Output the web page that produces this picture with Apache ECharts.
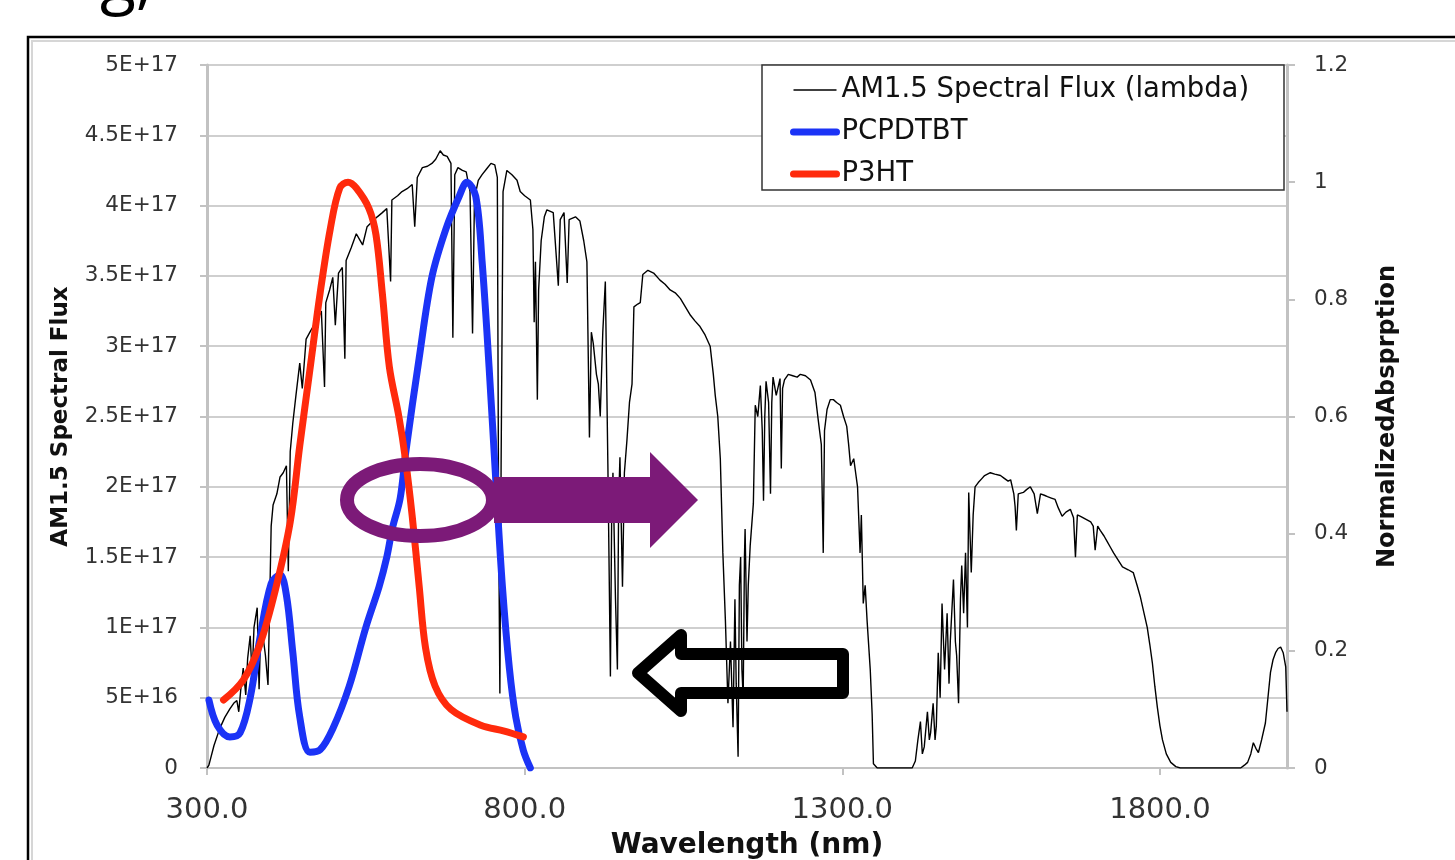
<!DOCTYPE html>
<html>
<head>
<meta charset="utf-8">
<title>AM1.5 spectral flux vs absorption</title>
<script src="https://cdn.jsdelivr.net/npm/echarts@6/dist/echarts.min.js"></script>
<style>
  html, body { margin: 0; padding: 0; background: #fff; }
  #chart { width: 1455px; height: 860px; }
</style>
</head>
<body>
<div id="chart"></div>
<script>
// AM1.5 spectrum, wavelength in nm, flux in units of 1E+17
const amWavelength = [
  300,303,311,320,328,336,342,347,350,353,
  357,361,364,368,371,374,379,382,385,388,
  392,396,399,401,404,410,415,420,425,428,
  431,435,440,446,450,456,462,467,473,480,
  485,487,493,498,502,507,513,517,519,527,
  535,540,545,552,561,568,576,583,589,591,
  600,607,615,623,627,631,639,647,654,660,
  667,672,678,684,687,690,695,702,708,714,
  718,721,727,733,740,747,753,757,759,761,
  763,766,772,780,788,793,800,809,813,815,
  817,820,822,826,831,835,845,853,856,862,
  867,870,880,887,893,898,902,905,908,913,
  916,919,923,927,931,935,937,939,943,946,
  948,950,954,957,961,965,969,972,978,982,
  986,994,1003,1013,1021,1029,1037,1045,1053,1061,
  1068,1076,1084,1092,1097,1100,1104,1108,1112,1116,
  1120,1124,1128,1131,1133,1136,1138,1140,1142,1144,
  1146,1147,1150,1152,1155,1160,1163,1167,1171,1174,
  1176,1178,1180,1184,1187,1189,1191,1196,1202,1204,
  1206,1209,1215,1222,1229,1234,1242,1250,1257,1262,
  1267,1270,1272,1276,1281,1286,1291,1297,1302,1307,
  1310,1313,1318,1321,1324,1328,1330,1333,1336,1339,
  1344,1347,1349,1355,1410,1415,1419,1423,1426,1429,
  1434,1437,1439,1443,1446,1448,1451,1454,1457,1461,
  1465,1468,1470,1475,1478,1480,1483,1486,1488,1491,
  1494,1497,1499,1503,1506,1509,1514,1520,1524,1533,
  1540,1549,1555,1561,1565,1570,1572,1574,1577,1585,
  1590,1596,1602,1607,1612,1618,1623,1629,1635,1640,
  1646,1652,1659,1664,1667,1670,1675,1683,1691,1695,
  1698,1702,1706,1712,1717,1722,1727,1734,1741,1750,
  1758,1764,1769,1775,1780,1784,1788,1792,1796,1800,
  1804,1810,1817,1825,1832,1927,1933,1938,1943,1947,
  1951,1955,1960,1966,1970,1974,1978,1982,1986,1990,
  1994,1998,2000
];
const amFluxE17 = [
  0,0.02,0.16,0.28,0.36,0.42,0.46,0.48,0.40,0.55,
  0.71,0.52,0.78,0.94,0.66,1.0,1.14,0.56,1.05,1.06,
  0.80,0.59,1.25,1.72,1.87,1.95,2.07,2.10,2.15,1.40,
  2.25,2.45,2.65,2.88,2.70,3.05,3.10,3.14,3.18,3.25,
  2.71,3.31,3.40,3.49,3.15,3.52,3.56,2.91,3.61,3.70,
  3.80,3.76,3.72,3.85,3.89,3.92,3.95,3.98,3.46,4.04,
  4.07,4.10,4.12,4.15,3.85,4.20,4.27,4.28,4.30,4.33,
  4.39,4.36,4.35,4.30,3.06,4.22,4.27,4.25,4.24,4.10,
  3.09,4.05,4.18,4.22,4.26,4.30,4.29,4.20,1.80,0.53,
  2.20,4.10,4.25,4.22,4.18,4.10,4.07,4.04,3.83,3.17,
  3.60,2.62,3.40,3.75,3.92,3.97,3.95,3.43,3.90,3.95,
  3.45,3.90,3.92,3.89,3.75,3.60,2.35,3.10,3.02,2.80,
  2.73,2.50,3.10,3.46,2.16,0.65,1.80,2.10,1.20,0.70,
  1.90,2.21,1.29,2.10,2.33,2.60,2.73,3.28,3.30,3.31,
  3.51,3.54,3.52,3.47,3.44,3.40,3.38,3.34,3.28,3.22,
  3.18,3.14,3.08,3.00,2.80,2.65,2.50,2.20,1.53,1.05,
  0.46,0.90,0.29,1.20,0.60,0.08,1.30,1.50,0.70,0.50,
  1.50,1.70,0.90,1.30,1.58,1.88,2.58,2.50,2.72,2.40,
  1.90,2.50,2.75,2.60,1.95,2.60,2.78,2.65,2.77,2.13,
  2.70,2.76,2.80,2.79,2.78,2.80,2.79,2.76,2.67,2.48,
  2.30,1.53,2.40,2.55,2.62,2.62,2.60,2.58,2.50,2.43,
  2.30,2.15,2.20,2.10,2.00,1.53,1.80,1.17,1.30,1.05,
  0.70,0.38,0.03,0,0,0.05,0.20,0.33,0.10,0.15,
  0.40,0.20,0.25,0.46,0.20,0.30,0.82,0.50,1.17,0.70,
  1.10,0.60,0.90,1.34,0.90,0.80,0.46,1.20,1.44,1.10,
  1.53,1.00,1.96,1.39,1.80,2.00,2.03,2.06,2.08,2.10,
  2.09,2.08,2.06,2.04,2.05,1.95,1.86,1.69,1.95,1.96,
  1.98,2.00,1.95,1.81,1.95,1.94,1.93,1.92,1.91,1.85,
  1.79,1.82,1.84,1.78,1.50,1.80,1.79,1.77,1.75,1.72,
  1.55,1.72,1.69,1.65,1.61,1.57,1.53,1.48,1.43,1.41,
  1.39,1.30,1.22,1.10,1.00,0.88,0.75,0.58,0.43,0.30,
  0.20,0.10,0.04,0.01,0,0,0.02,0.04,0.10,0.18,
  0.14,0.11,0.20,0.32,0.50,0.68,0.77,0.82,0.85,0.86,
  0.82,0.72,0.40
];

// normalized absorption of the two polymers
const pcpdtbtWavelength = [303,316,336,352,368,383,401,415,425,435,446,462,478,498,524,550,571,583,592,604,613,634,654,676,697,709,723,733,744,755,765,776,786,798,809];
const pcpdtbtAbs = [0.116,0.073,0.053,0.06,0.12,0.22,0.315,0.33,0.295,0.198,0.087,0.027,0.031,0.067,0.14,0.24,0.31,0.36,0.41,0.46,0.54,0.70,0.838,0.92,0.976,1.0,0.976,0.865,0.685,0.483,0.31,0.17,0.087,0.03,0];

const p3htWavelength = [326,357,383,409,431,446,462,478,494,509,522,535,555,566,576,587,602,612,623,634,644,659,684,731,768,798];
const p3htAbs = [0.116,0.15,0.21,0.31,0.42,0.55,0.68,0.81,0.92,0.99,1.0,0.99,0.955,0.91,0.81,0.685,0.60,0.53,0.43,0.31,0.205,0.14,0.10,0.073,0.063,0.053];

const seriesNames = ['AM1.5 Spectral Flux (lambda)', 'PCPDTBT', 'P3HT'];

const FONT = 'DejaVu Sans';
const GRID_GREY = '#cfcfcf';
const AXIS_GREY = '#c2c2c2';
const PURPLE = '#7c1a78';
const BLUE = '#1b33f6';
const RED = '#ff2a0c';

// 5E+17 style labels, like the spreadsheet
function sciLabel(v) {
  if (v === 0) return '0';
  const e = Math.floor(Math.log10(v) + 1e-9);
  const m = Math.round(v / Math.pow(10, e) * 10) / 10;
  return m + 'E+' + e;
}

const chart = echarts.init(document.getElementById('chart'));

const option = {
  animation: false,
  backgroundColor: '#fff',
  grid: { left: 207, right: 168, top: 65, bottom: 92, containLabel: false, outerBoundsMode: 'none' },
  legend: {
    orient: 'vertical',
    left: 790,
    top: 76,
    padding: 0,
    itemGap: 14,
    itemWidth: 43,
    itemHeight: 14,
    z: 5,
    itemStyle: { opacity: 0 },
    textStyle: { fontFamily: FONT, fontSize: 27.5, color: '#111' },
    data: [
      { name: seriesNames[0], lineStyle: { width: 1.3, color: '#000' } },
      { name: seriesNames[1], lineStyle: { width: 7, color: BLUE, cap: 'round' } },
      { name: seriesNames[2], lineStyle: { width: 7, color: RED, cap: 'round' } }
    ]
  },
  xAxis: {
    type: 'value',
    min: 300,
    max: 2000,
    interval: 500,
    name: 'Wavelength (nm)',
    nameLocation: 'middle',
    nameGap: 64,
    nameTextStyle: { fontFamily: FONT, fontWeight: 'bold', fontSize: 28, color: '#111' },
    axisLine: { show: true, lineStyle: { color: AXIS_GREY, width: 2 } },
    axisTick: { show: true, length: 7, lineStyle: { color: AXIS_GREY, width: 2 } },
    axisLabel: {
      showMaxLabel: false,
      margin: 28,
      fontFamily: FONT,
      fontSize: 29,
      color: '#333',
      formatter: v => v.toFixed(1)
    },
    splitLine: { show: false }
  },
  yAxis: [
    {
      type: 'value',
      position: 'left',
      min: 0,
      max: 5e17,
      interval: 5e16,
      name: 'AM1.5 Spectral Flux',
      nameLocation: 'middle',
      nameRotate: 90,
      nameGap: 134,
      nameTextStyle: { fontFamily: FONT, fontWeight: 'bold', fontSize: 23, color: '#111' },
      axisLine: { show: true, lineStyle: { color: AXIS_GREY, width: 3 } },
      axisTick: { show: true, length: 7, lineStyle: { color: AXIS_GREY, width: 2 } },
      axisLabel: { margin: 29, fontFamily: FONT, fontSize: 21.5, color: '#333', formatter: sciLabel },
      splitLine: { show: true, lineStyle: { color: GRID_GREY, width: 2 } }
    },
    {
      type: 'value',
      position: 'right',
      min: 0,
      max: 1.2,
      interval: 0.2,
      name: 'NormalizedAbsprption',
      nameLocation: 'middle',
      nameRotate: 90,
      nameGap: 89,
      nameTextStyle: { fontFamily: FONT, fontWeight: 'bold', fontSize: 24, color: '#111' },
      axisLine: { show: true, lineStyle: { color: AXIS_GREY, width: 3 } },
      axisTick: { show: true, length: 8, lineStyle: { color: AXIS_GREY, width: 2 } },
      axisLabel: { margin: 27, fontFamily: FONT, fontSize: 21.5, color: '#333' },
      splitLine: { show: false }
    }
  ],
  series: [
    {
      name: seriesNames[0],
      type: 'line',
      yAxisIndex: 0,
      symbol: 'none',
      z: 2,
      data: amWavelength.map((w, i) => [w, amFluxE17[i] * 1e17]),
      lineStyle: { color: '#000', width: 1.4 },
      itemStyle: { color: '#000' }
    },
    {
      name: seriesNames[1],
      type: 'line',
      yAxisIndex: 1,
      symbol: 'none',
      smooth: 0.35,
      z: 3,
      data: pcpdtbtWavelength.map((w, i) => [w, pcpdtbtAbs[i]]),
      lineStyle: { color: BLUE, width: 7, cap: 'round' },
      itemStyle: { color: BLUE }
    },
    {
      name: seriesNames[2],
      type: 'line',
      yAxisIndex: 1,
      symbol: 'none',
      smooth: 0.35,
      z: 4,
      data: p3htWavelength.map((w, i) => [w, p3htAbs[i]]),
      lineStyle: { color: RED, width: 7, cap: 'round' },
      itemStyle: { color: RED }
    }
  ],
  graphic: [
    // slide frame around the pasted chart
    { type: 'rect', z: 1, silent: true, shape: { x: 28, y: 37, width: 1500, height: 900 },
      style: { fill: null, stroke: '#000', lineWidth: 2.5 } },
    { type: 'rect', z: 1, silent: true, shape: { x: 32, y: 41, width: 1500, height: 900 },
      style: { fill: null, stroke: '#d6d6d6', lineWidth: 2 } },
    // tail of the slide title above the chart
    { type: 'text', z: 1, silent: true, x: 100, y: -51,
      style: { text: 'g,', fontFamily: 'Open Sans', fontSize: 66, fill: '#000', verticalAlign: 'top' } },
    // legend frame
    { type: 'rect', z: 3, silent: true, shape: { x: 762, y: 65, width: 522, height: 125 },
      style: { fill: '#fff', stroke: '#333', lineWidth: 1.5 } },
    // purple ellipse + arrow
    { type: 'ellipse', z: 10, silent: true, shape: { cx: 420, cy: 500, rx: 73, ry: 36 },
      style: { fill: null, stroke: PURPLE, lineWidth: 14 } },
    { type: 'polygon', z: 10, silent: true,
      shape: { points: [[494, 477], [650, 477], [650, 452], [698, 500], [650, 548], [650, 523], [494, 523]] },
      style: { fill: PURPLE } },
    // black outlined arrow pointing left
    { type: 'polygon', z: 10, silent: true,
      shape: { points: [[638, 673], [681, 635], [681, 654], [843, 654], [843, 693], [681, 693], [681, 711]] },
      style: { fill: null, stroke: '#000', lineWidth: 12, lineJoin: 'round' } }
  ]
};

chart.setOption(option);
</script>
</body>
</html>
